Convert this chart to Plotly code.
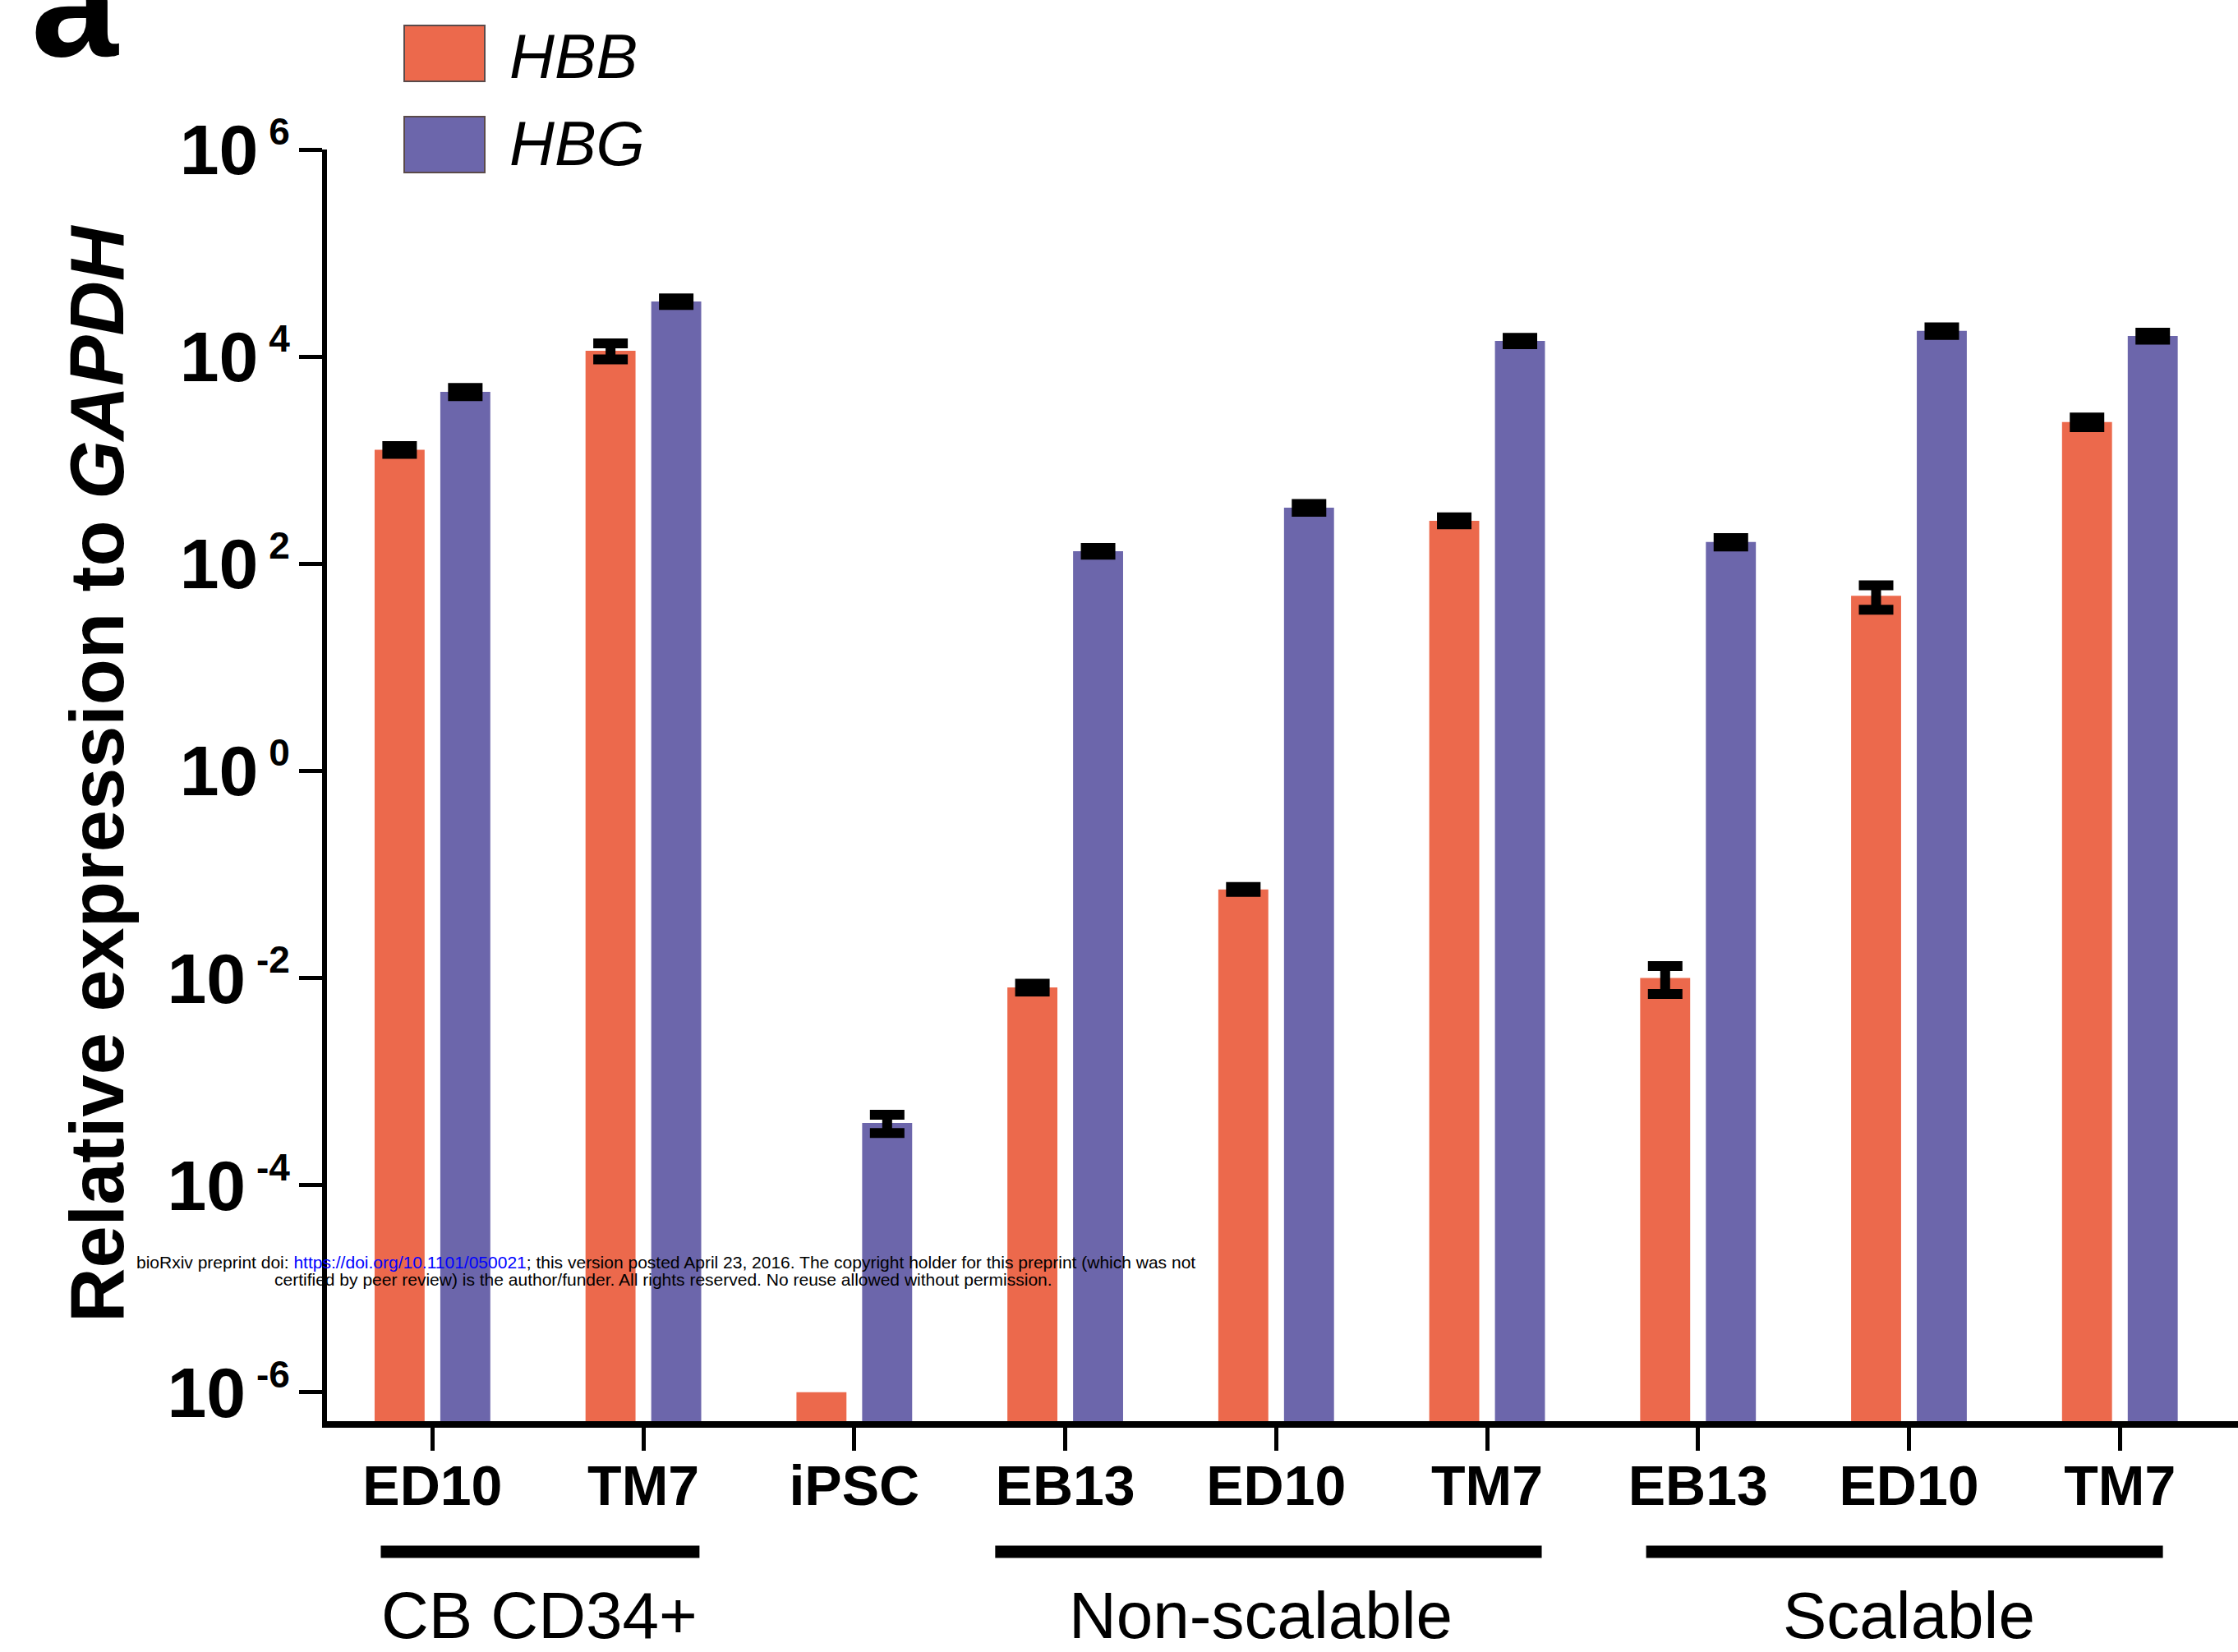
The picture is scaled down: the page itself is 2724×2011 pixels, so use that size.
import plotly.graph_objects as go

# ---------------- data ----------------
categories = ["ED10", "TM7", "iPSC", "EB13", "ED10", "TM7", "EB13", "ED10", "TM7"]
series_names = ["HBB", "HBG"]
hbb = [1260, 11400, 1.0e-6, 0.0081, 0.0716, 260, 0.0100, 49, 2330]
hbb_err = [110, 2000, None, 0.0007, 0.004, 20, 0.003, 13, 250]
hbg = [4570, 34000, 3.98e-4, 132, 348, 14200, 162, 17700, 15800]
hbg_err = [420, 2500, 0.00008, 10, 30, 1000, 15, 1500, 1200]
groups = ["CB CD34+", "Non-scalable", "Scalable"]
tick_vals = [1e-6, 1e-4, 1e-2, 1e0, 1e2, 1e4, 1e6]
tick_exps = ["-6", "-4", "-2", "0", "2", "4", "6"]
watermark_1 = ("bioRxiv preprint doi: ",
               "https://doi.org/10.1101/050021",
               "; this version posted April 23, 2016. The copyright holder for this preprint (which was not")
watermark_2 = "certified by peer review) is the author/funder. All rights reserved. No reuse allowed without permission."

# ---------------- style ----------------
C_HBB = "#EC694C"
C_HBG = "#6C66AB"
BOLD = "Liberation Sans, Arial, sans-serif"

xs = list(range(len(categories)))

fig = go.Figure()
for name, vals, errs, col in [(series_names[0], hbb, hbb_err, C_HBB),
                              (series_names[1], hbg, hbg_err, C_HBG)]:
    # missing error -> "NaN" so plotly.js skips drawing that error bar
    err_arr = [e if e is not None else "NaN" for e in errs]
    fig.add_trace(go.Bar(
        x=xs, y=vals, name=name,
        marker=dict(color=col, line=dict(width=0)),
        error_y=dict(type="data", array=err_arr, visible=True,
                     color="black", thickness=12, width=21),
        showlegend=False,
    ))

W, H = 2724, 2011
L, R, T, B = 398, 0, 182, 281
pw, ph = W - L - R, H - T - B


def px(x):
    return (x - L) / pw


def py(y):
    return (H - B - y) / ph


fig.update_layout(
    width=W, height=H,
    margin=dict(l=L, r=R, t=T, b=B, pad=0),
    paper_bgcolor="white", plot_bgcolor="white",
    barmode="group", bargap=0.377, bargroupgap=0.239,
    font=dict(family=BOLD, color="black"),
)

fig.update_xaxes(
    range=[-0.5, 8.56], tickvals=xs, ticktext=categories,
    showline=True, linecolor="black", linewidth=8,
    ticks="outside", ticklen=28, tickwidth=5, tickcolor="black",
    tickfont=dict(family=BOLD, size=68, weight="bold", color="black"),
    ticklabelstandoff=-16,
    showgrid=False, zeroline=False, automargin=False,
)

fig.update_yaxes(
    type="log", range=[-6.28, 6.0],
    tickvals=tick_vals,
    ticktext=[f'10<sup><span style="font-size:46px"> {e}</span></sup>' for e in tick_exps],
    showline=True, linecolor="black", linewidth=6,
    ticks="outside", ticklen=28, tickwidth=5, tickcolor="black",
    tickfont=dict(family=BOLD, size=86, weight="bold", color="black"),
    ticklabelstandoff=-6,
    showgrid=False, zeroline=False, automargin=False,
)

ann = []
shapes = []

# y-axis title
ann.append(dict(text="<b>Relative expression to <i>GAPDH</i></b>", textangle=-90,
                xref="paper", yref="paper", x=px(118), y=py(942),
                xanchor="center", yanchor="middle", showarrow=False,
                font=dict(family=BOLD, size=92, color="black")))

# panel label (partly cut off at the top edge, as in the original figure)
ann.append(dict(text="<b>a</b>", xref="paper", yref="paper", x=px(36), y=py(110),
                xanchor="left", yanchor="bottom", showarrow=False,
                font=dict(family=BOLD, size=190, color="black")))

# legend (manual)
for name, col, y0, y1, ty in [(series_names[0], C_HBB, 31, 99, 69),
                              (series_names[1], C_HBG, 142, 210, 175)]:
    shapes.append(dict(type="rect", xref="paper", yref="paper",
                       x0=px(492), x1=px(590), y0=py(y1), y1=py(y0),
                       fillcolor=col, line=dict(color="#5a4a4a", width=2)))
    ann.append(dict(text=f"<i>{name}</i>", xref="paper", yref="paper",
                    x=px(618), y=py(ty), xanchor="left", yanchor="middle",
                    showarrow=False,
                    font=dict(family=BOLD, size=76, color="black")))

# group underlines and labels
group_spans = [(-0.245, 1.266), (2.668, 5.259), (5.754, 8.204)]
group_centers = [0.506, 3.927, 7.0]
for g, (a, b), c in zip(groups, group_spans, group_centers):
    shapes.append(dict(type="line", xref="x", yref="paper",
                       x0=a, x1=b, y0=py(1889), y1=py(1889),
                       line=dict(color="black", width=15)))
    ann.append(dict(text=g, xref="x", yref="paper", x=c, y=py(1966),
                    xanchor="center", yanchor="middle", showarrow=False,
                    font=dict(family=BOLD, size=80, color="black")))

# watermark
ann.append(dict(text=f'{watermark_1[0]}<span style="color:#0000FF">{watermark_1[1]}</span>{watermark_1[2]}',
                xref="paper", yref="paper", x=px(810), y=py(1536),
                xanchor="center", yanchor="middle", showarrow=False,
                font=dict(family="Liberation Sans, Arial", size=21, color="black")))
ann.append(dict(text=watermark_2,
                xref="paper", yref="paper", x=px(807), y=py(1557),
                xanchor="center", yanchor="middle", showarrow=False,
                font=dict(family="Liberation Sans, Arial", size=21, color="black")))

fig.update_layout(annotations=ann, shapes=shapes)

fig.write_html("out.html")
